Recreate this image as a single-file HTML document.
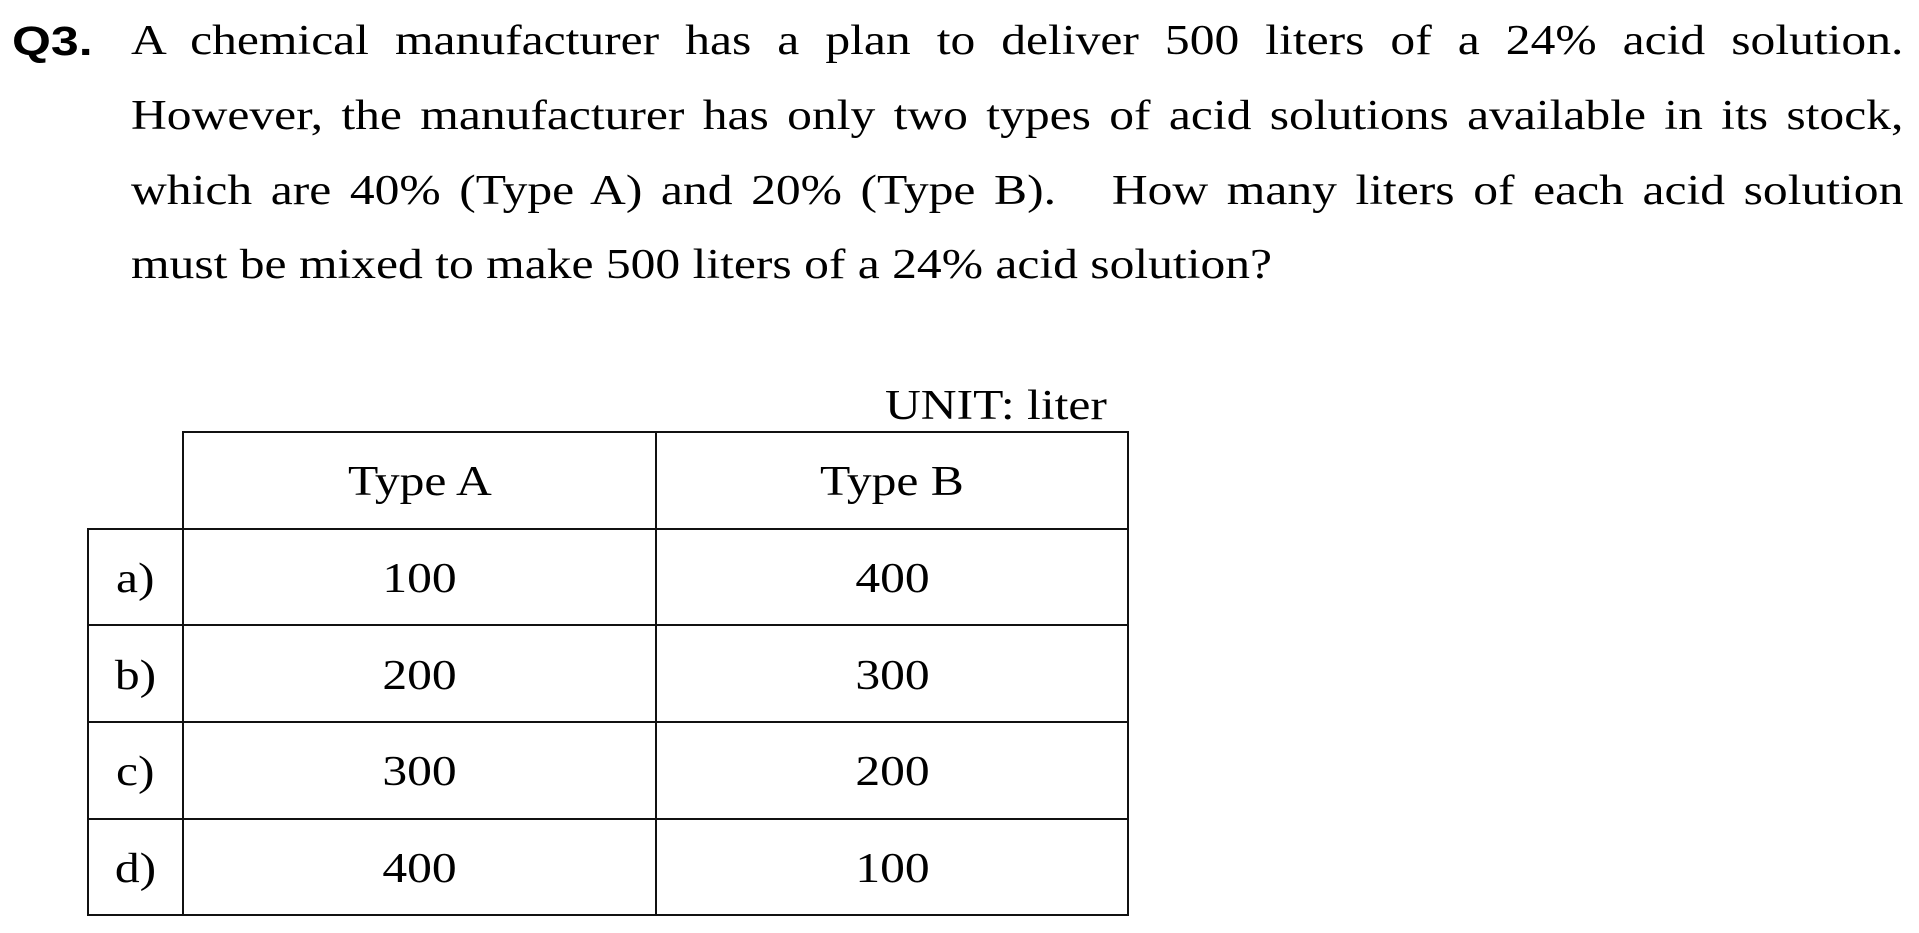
<!DOCTYPE html>
<html><head><meta charset="utf-8">
<style>
html,body{margin:0;padding:0;background:#fff;}
body{width:1919px;height:933px;position:relative;overflow:hidden;font-family:"Liberation Serif",serif;color:#000;}
.q{position:absolute;left:12px;top:4px;font-family:"Liberation Sans",sans-serif;font-weight:bold;font-size:41px;line-height:75px;transform:scaleX(1.22);transform-origin:0 0;}
.t{position:absolute;left:131px;width:1502px;font-size:42px;line-height:75px;white-space:nowrap;transform:scaleX(1.18);transform-origin:0 0;}
.j{text-align:justify;text-align-last:justify;white-space:normal;}
.h{position:absolute;background:#111;height:2px;}
.v{position:absolute;background:#111;width:2px;}
.c{position:absolute;font-size:42px;line-height:97px;text-align:center;}
.c span{display:inline-block;transform:scaleX(1.18);}
</style></head><body>
<div class="q">Q3.</div>
<div class="t j" style="top:4px">A chemical manufacturer has a plan to deliver 500 liters of a 24% acid solution.</div>
<div class="t j" style="top:79px">However, the manufacturer has only two types of acid solutions available in its stock,</div>
<div class="t j" style="top:154px">which are 40% (Type A) and 20% (Type B). &nbsp; How many liters of each acid solution</div>
<div class="t" style="top:228px">must be mixed to make 500 liters of a 24% acid solution?</div>
<div class="t" style="top:369px;left:885px;width:200px">UNIT: liter</div>

<div class="h" style="left:182px;width:947px;top:431px"></div>
<div class="h" style="left:87px;width:1042px;top:528px"></div>
<div class="h" style="left:87px;width:1042px;top:624px"></div>
<div class="h" style="left:87px;width:1042px;top:721px"></div>
<div class="h" style="left:87px;width:1042px;top:818px"></div>
<div class="h" style="left:87px;width:1042px;top:914px"></div>
<div class="v" style="left:87px;top:528px;height:388px"></div>
<div class="v" style="left:182px;top:431px;height:485px"></div>
<div class="v" style="left:655px;top:431px;height:485px"></div>
<div class="v" style="left:1127px;top:431px;height:485px"></div>

<div class="c" style="left:184px;width:471px;top:434px"><span>Type A</span></div>
<div class="c" style="left:657px;width:470px;top:434px"><span>Type B</span></div>

<div class="c" style="left:89px;width:93px;top:531px"><span>a)</span></div>
<div class="c" style="left:184px;width:471px;top:531px"><span>100</span></div>
<div class="c" style="left:657px;width:470px;top:531px"><span>400</span></div>

<div class="c" style="left:89px;width:93px;top:628px"><span>b)</span></div>
<div class="c" style="left:184px;width:471px;top:628px"><span>200</span></div>
<div class="c" style="left:657px;width:470px;top:628px"><span>300</span></div>

<div class="c" style="left:89px;width:93px;top:724px"><span>c)</span></div>
<div class="c" style="left:184px;width:471px;top:724px"><span>300</span></div>
<div class="c" style="left:657px;width:470px;top:724px"><span>200</span></div>

<div class="c" style="left:89px;width:93px;top:821px"><span>d)</span></div>
<div class="c" style="left:184px;width:471px;top:821px"><span>400</span></div>
<div class="c" style="left:657px;width:470px;top:821px"><span>100</span></div>
</body></html>
